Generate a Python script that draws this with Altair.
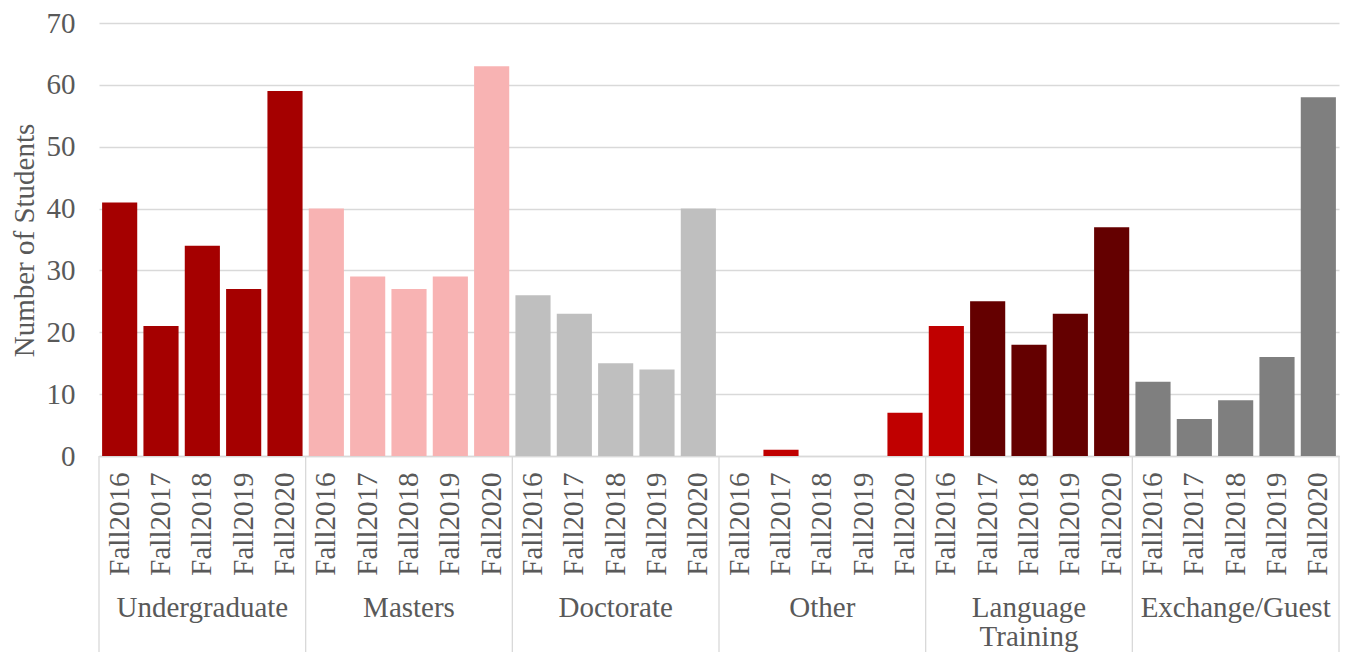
import altair as alt
import pandas as pd

groups = ["Undergraduate", "Masters", "Doctorate", "Other", "Language Training", "Exchange/Guest"]
group_labels = ["Undergraduate", "Masters", "Doctorate", "Other", "Language\nTraining", "Exchange/Guest"]
years = ["Fall2016", "Fall2017", "Fall2018", "Fall2019", "Fall2020"]

undergraduate = [41, 21, 34, 27, 59]
masters = [40, 29, 27, 29, 63]
doctorate = [26, 23, 15, 14, 40]
other = [0, 1, 0, 0, 7]
language_training = [21, 25, 18, 23, 37]
exchange_guest = [12, 6, 9, 16, 58]
series = [undergraduate, masters, doctorate, other, language_training, exchange_guest]

shade_domain = groups + ["Language Training Fall2016"]
shade_range = ["#A50000", "#F8B3B3", "#BFBFBF", "#C00000", "#640000", "#7F7F7F", "#C00000"]

FONT = "Liberation Serif"
TXT = "#595959"
GRID = "#D9D9D9"
FS = 29

rows = []
keys = []
for g, vals in zip(groups, series):
    for y, v in zip(years, vals):
        k = f"{g}|{y}"
        keys.append(k)
        shade = g
        if g == "Language Training" and y == "Fall2016":
            shade = "Language Training Fall2016"
        rows.append({"key": k, "group": g, "year": y, "value": v, "shade": shade})
df = pd.DataFrame(rows)

first_keys = pd.DataFrame({"key": [f"{g}|{years[0]}" for g in groups]})
last_key = pd.DataFrame({"key": [f"{groups[-1]}|{years[-1]}"]})
mid_keys = pd.DataFrame({"key": [f"{g}|{years[2]}" for g in groups], "label": group_labels})

H = 433
xscale = alt.Scale(domain=keys, paddingInner=0, paddingOuter=0)
x_axis = alt.Axis(labelExpr="split(datum.label, '|')[1]", labelAngle=270,
                  labelFont=FONT, labelFontSize=FS, labelColor=TXT,
                  labelPadding=16, ticks=False, tickSize=0, grid=False,
                  domainColor=GRID, domainWidth=1.3, labelOverlap=False,
                  labelLimit=300, title=None)

bars = alt.Chart(df).mark_bar(width=alt.RelativeBandSize(0.85)).encode(
    x=alt.X("key:N", scale=xscale, title=None, axis=x_axis),
    y=alt.Y("value:Q", scale=alt.Scale(domain=[0, 70], nice=False),
            axis=alt.Axis(values=[0, 10, 20, 30, 40, 50, 60, 70], title="Number of Students",
                          labelFont=FONT, labelFontSize=FS, labelColor=TXT, labelPadding=24,
                          ticks=False, domain=False, gridColor=GRID, gridWidth=1.3,
                          titleFont=FONT, titleFontSize=FS, titleFontWeight="normal",
                          titleColor=TXT, titleAngle=270, titleAlign="center",
                          titleBaseline="alphabetic", titleX=-66, titleY=217)),
    color=alt.Color("shade:N", scale=alt.Scale(domain=shade_domain, range=shade_range), legend=None),
)

sep_left = alt.Chart(first_keys).mark_rule(color=GRID, strokeWidth=1.3).encode(
    x=alt.X("key:N", scale=xscale, axis=x_axis, title=None, bandPosition=0),
    y=alt.value(H),
    y2=alt.value(H + 200),
)
sep_right = alt.Chart(last_key).mark_rule(color=GRID, strokeWidth=1.3).encode(
    x=alt.X("key:N", scale=xscale, axis=x_axis, title=None, bandPosition=1),
    y=alt.value(H),
    y2=alt.value(H + 200),
)

group_text = alt.Chart(mid_keys).mark_text(
    font=FONT, fontSize=FS, color=TXT, baseline="alphabetic", align="center",
    lineBreak="\n", lineHeight=29,
).encode(
    x=alt.X("key:N", scale=xscale, axis=x_axis, title=None),
    y=alt.value(H + 161),
    text="label:N",
)

chart = alt.layer(bars, sep_left, sep_right, group_text).properties(
    width=1240, height=H,
    autosize=alt.AutoSizeParams(type="none"),
    padding={"left": 91, "top": 15, "right": 2, "bottom": 196},
).configure_view(stroke=None)

chart.save("out.html", embed_options={"renderer": "svg", "actions": False})
